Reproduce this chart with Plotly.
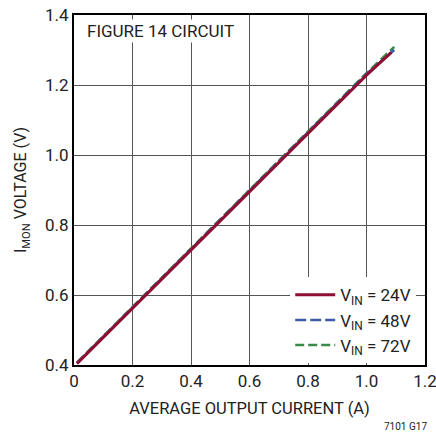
import plotly.graph_objects as go

current = [0.01, 0.2, 0.4, 0.6, 0.8, 1.0, 1.085]
v24 = [0.404, 0.562, 0.728, 0.895, 1.062, 1.228, 1.293]
current_72 = [0.01, 0.2, 0.4, 0.6, 0.8, 1.0, 1.095]
v48 = [0.406, 0.565, 0.731, 0.898, 1.065, 1.232, 1.300]
v72 = [0.407, 0.567, 0.733, 0.900, 1.067, 1.234, 1.309]

x_ticks = [0, 0.2, 0.4, 0.6, 0.8, 1.0, 1.2]
x_labels = ["0", "0.2", "0.4", "0.6", "0.8", "1.0", "1.2"]
y_ticks = [0.4, 0.6, 0.8, 1.0, 1.2, 1.4]
y_labels = ["0.4", "0.6", "0.8", "1.0", "1.2", "1.4"]

FONT = "Roboto"

fig = go.Figure()
fig.add_trace(go.Scatter(x=current_72, y=v72, mode="lines", name="V<sub>IN</sub> = 72V",
                         line=dict(color="#3a8a48", width=2.5, dash="9px,4px")))
fig.add_trace(go.Scatter(x=current_72, y=v48, mode="lines", name="V<sub>IN</sub> = 48V",
                         line=dict(color="#3b5ba8", width=2.5, dash="11px,4px")))
fig.add_trace(go.Scatter(x=current, y=v24, mode="lines", name="V<sub>IN</sub> = 24V",
                         line=dict(color="#8e0f32", width=3)))

fig.update_layout(
    width=436, height=434, autosize=False,
    margin=dict(l=74, r=11, t=15, b=69, autoexpand=False),
    paper_bgcolor="white", plot_bgcolor="white",
    font=dict(family=FONT, size=16, color="#222"),
    showlegend=True,
    legend=dict(x=0.975, y=0.005, xanchor="right", yanchor="bottom",
                traceorder="reversed", bgcolor="white", borderwidth=0,
                font=dict(size=17, family=FONT), itemwidth=40,
                tracegroupgap=0),
    xaxis=dict(range=[0, 1.2], tickvals=x_ticks, ticktext=x_labels,
               showgrid=True, gridcolor="#555", gridwidth=1,
               showline=True, linecolor="black", linewidth=2, mirror=True,
               zeroline=False, ticks="", tickfont=dict(size=17),
               ticklabeloverflow="allow", automargin=False,
               title=dict(text="AVERAGE OUTPUT CURRENT (A)", font=dict(size=16.5), standoff=12)),
    yaxis=dict(range=[0.4, 1.4], tickvals=y_ticks, ticktext=y_labels,
               showgrid=True, gridcolor="#555", gridwidth=1,
               showline=True, linecolor="black", linewidth=2, mirror=True,
               zeroline=False, ticks="", tickfont=dict(size=17),
               ticklabeloverflow="allow", automargin=False,
               title=dict(text="I<sub>MON</sub> VOLTAGE (V)", font=dict(size=16), standoff=14)),
)
fig.add_annotation(x=0.03, y=0.99, xref="paper", yref="paper", xanchor="left", yanchor="top",
                   text="FIGURE 14 CIRCUIT", showarrow=False, bgcolor="white",
                   font=dict(size=17, family=FONT))
fig.add_annotation(x=1.0, y=-0.155, xref="paper", yref="paper", xanchor="right", yanchor="top",
                   xshift=4, text="7101 G17", showarrow=False, font=dict(size=10, family=FONT))

fig.write_html("out.html", config={"displayModeBar": False},
               post_script="document.body.style.margin='0';document.body.style.padding='0';document.body.style.overflow='hidden';")
